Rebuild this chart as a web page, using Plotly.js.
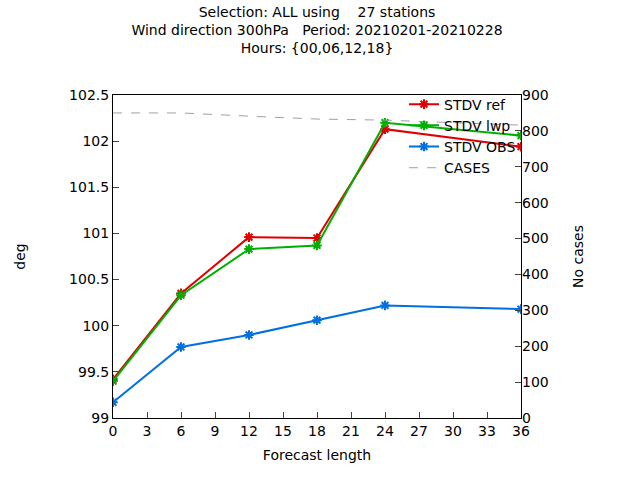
<!DOCTYPE html>
<html><head><meta charset="utf-8">
<script src="https://cdn.plot.ly/plotly-3.0.1.min.js"></script>
<style>body{margin:0}#c{width:640px;height:480px}</style></head>
<body><div id="c"></div>
<script>
var steps = [0, 6, 12, 18, 24, 36];
var stdvRef = [99.42, 100.35, 100.96, 100.95, 102.13, 101.94];
var stdvLwp = [99.40, 100.33, 100.83, 100.87, 102.20, 102.06];
var stdvObs = [99.17, 99.77, 99.90, 100.06, 100.22, 100.18];
var cases = [850, 850, 841, 833, 830, 816];

function series(name, y, color) {
  return {
    x: steps, y: y, name: name, type: 'scatter', mode: 'lines+markers',
    line: { color: color, width: 2 },
    marker: { symbol: 'asterisk-open', size: 8, color: color, line: { color: color, width: 2 } }
  };
}

var traces = [
  series('STDV ref', stdvRef, '#e00000'),
  series('STDV lwp', stdvLwp, '#00b000'),
  series('STDV OBS', stdvObs, '#0070e0'),
  { x: steps, y: cases, name: 'CASES', yaxis: 'y2', type: 'scatter', mode: 'lines',
    line: { color: '#a0a0a0', width: 1, dash: 'dash' } }
];

var font = { family: 'DejaVu Sans, sans-serif', size: 14, color: '#000' };
var layout = {
  width: 640, height: 480,
  margin: { l: 113, r: 119, t: 95, b: 62 },
  font: font,
  showlegend: true,
  legend: { x: 1, y: 1.02, xanchor: 'right', yanchor: 'top', bgcolor: 'rgba(0,0,0,0)',
    font: { size: 14 }, tracegroupgap: 0 },
  title: { text: 'Selection: ALL using    27 stations<br>Wind direction 300hPa   Period: 20210201-20210228<br>Hours: {00,06,12,18}',
    x: 0.5, xref: 'paper', yref: 'container', y: 0.965, yanchor: 'top', font: { size: 14 } },
  xaxis: { range: [0, 36], tickvals: [0,3,6,9,12,15,18,21,24,27,30,33,36],
    showgrid: false, zeroline: false, showline: true, mirror: true, linecolor: '#000',
    ticks: 'inside', ticklen: 6, title: { text: 'Forecast length', standoff: 12, font: { size: 14 } } },
  yaxis: { range: [99, 102.5], dtick: 0.5, showgrid: false, zeroline: false,
    showline: true, mirror: true, linecolor: '#000', ticks: 'inside', ticklen: 6,
    title: { text: 'deg', standoff: 40, font: { size: 14 } } },
  yaxis2: { range: [0, 900], dtick: 100, overlaying: 'y', side: 'right', showgrid: false,
    zeroline: false, ticks: 'inside', ticklen: 6, title: { text: 'No cases', standoff: 25, font: { size: 14 } } },
  paper_bgcolor: '#fff', plot_bgcolor: '#fff'
};

Plotly.newPlot('c', traces, layout, { displayModeBar: false, staticPlot: true });
</script></body></html>
